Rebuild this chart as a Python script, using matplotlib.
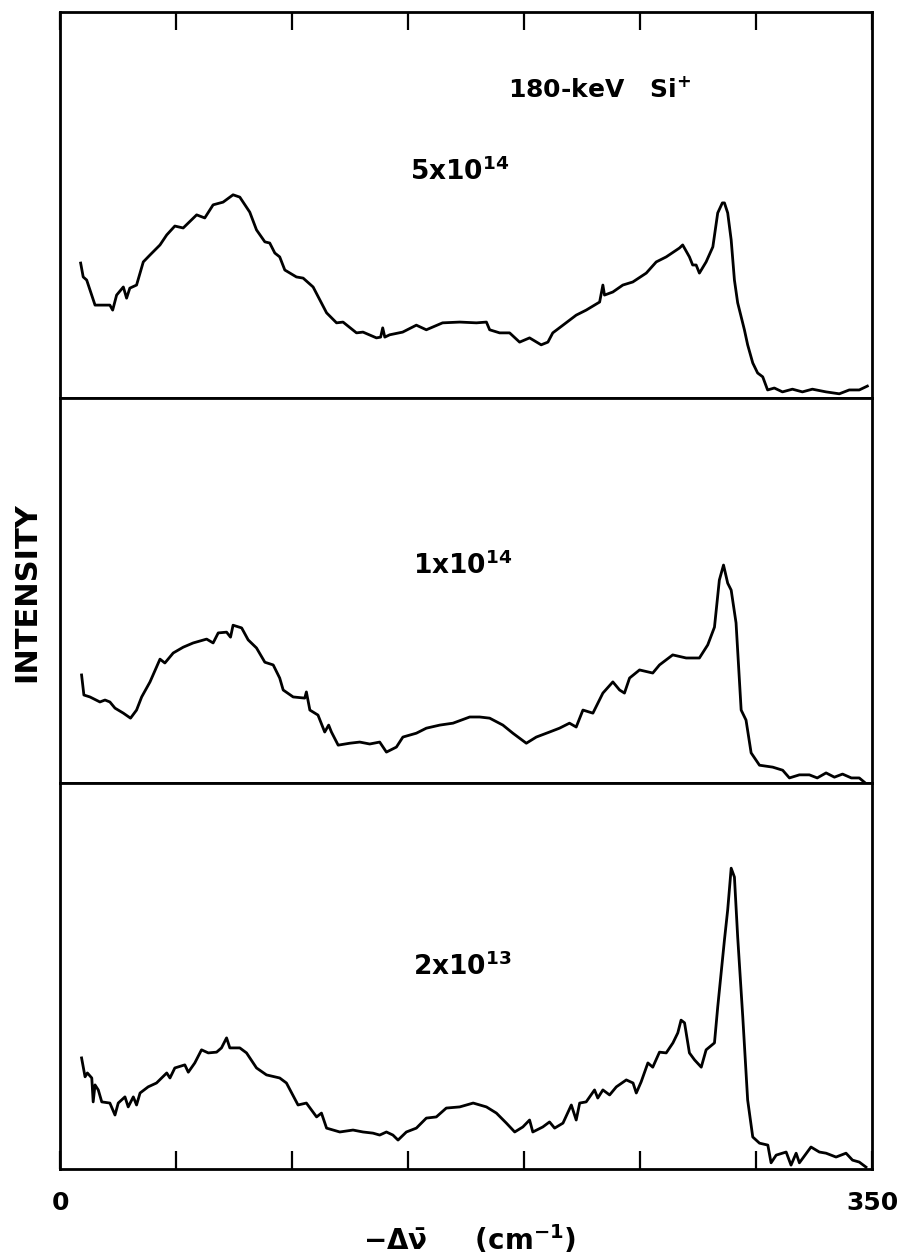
import matplotlib
matplotlib.use("Agg")
import matplotlib.pyplot as plt

plt.rcParams['font.family'] = ['DejaVu Sans']
plt.rcParams['font.weight'] = 'bold'
plt.rcParams['mathtext.fontset'] = 'custom'
plt.rcParams['mathtext.rm'] = 'DejaVu Sans:bold'
plt.rcParams['mathtext.it'] = 'DejaVu Sans:bold'
plt.rcParams['mathtext.bf'] = 'DejaVu Sans:bold'
plt.rcParams['mathtext.sf'] = 'DejaVu Sans:bold'

# Raman shift (cm^-1) and intensity (arb. units, 0-100 per panel)
shift_5e14 = [8.9, 10.0, 11.5, 15.1, 21.5, 22.7, 24.4, 27.3, 28.7, 30.1, 33.0, 35.9, 38.8,
              43.1, 46.0, 49.5, 53.1, 58.9, 62.4, 66.0, 70.3, 74.6, 77.5, 81.8, 84.7, 88.3,
              90.4, 92.6, 94.7, 96.9, 101.9, 104.8, 109.1, 114.9, 119.2, 122.0, 127.8, 130.6,
              136.4, 138.2, 139.1, 140.0, 142.1, 147.7, 153.6, 157.9, 164.9, 172.3, 179.5,
              183.8, 185.2, 189.5, 193.8, 198.1, 202.4, 207.4, 210.3, 212.4, 216.8, 222.5,
              226.8, 232.6, 234.0, 234.7, 238.3, 242.6, 246.9, 252.7, 257.0, 261.3, 267.0,
              268.4, 271.3, 272.7, 274.2, 275.6, 278.5, 281.4, 283.5, 285.5, 286.4, 287.8,
              289.3, 290.7, 292.1, 295.0, 296.4, 298.6, 300.7, 302.9, 305.0, 307.9, 311.4,
              315.7, 320.0, 324.3, 330.2, 335.9, 340.2, 344.5, 348.0]
int_5e14 = [34.9, 31.3, 30.5, 24.0, 24.0, 22.7, 26.6, 28.7, 25.8, 28.4, 29.2, 35.2, 37.0,
            39.6, 42.2, 44.5, 44.0, 47.4, 46.6, 50.0, 50.7, 52.6, 52.0, 48.1, 43.5, 40.4,
            40.1, 37.5, 36.5, 33.1, 31.3, 31.0, 28.7, 22.0, 19.4, 19.6, 16.8, 17.0,
            15.5, 15.7, 18.1, 15.7, 16.3, 17.0, 18.8, 17.6, 19.4, 19.6, 19.4,
            19.6, 17.6, 16.8, 16.8, 14.4, 15.5, 13.7, 14.4, 16.8, 18.8, 21.4,
            22.7, 24.8, 29.2, 26.6, 27.4, 29.2, 30.0, 32.3, 35.2, 36.5, 38.8,
            39.6, 36.5, 34.4, 34.4, 32.3, 35.2, 39.1, 47.9, 50.5, 50.5, 47.9,
            40.9, 30.5, 24.6, 17.6, 13.7, 9.0, 6.4, 5.4, 2.0, 2.5, 1.5,
            2.2, 1.5, 2.2, 1.5, 1.0, 2.0, 2.0, 3.0]

shift_1e14 = [9.3, 10.3, 12.9, 17.2, 19.4, 21.5, 23.7, 27.3, 30.4, 33.0, 35.2, 38.8, 43.1,
              45.2, 48.8, 53.1, 57.4, 63.2, 66.0, 68.2, 71.8, 73.5, 74.6, 78.3, 81.1, 84.7,
              88.3, 91.9, 94.7, 96.2, 100.5, 105.5, 106.2, 107.7, 111.2, 114.1, 115.8, 117.0,
              119.9, 124.9, 129.2, 133.5, 137.8, 140.7, 145.0, 147.8, 153.6, 157.9, 163.7,
              169.4, 176.6, 180.9, 185.2, 190.9, 195.2, 201.0, 205.3, 211.0, 215.3, 219.6,
              222.5, 225.4, 229.7, 234.0, 238.3, 241.2, 243.3, 245.5, 249.8, 255.5, 258.4,
              264.1, 269.9, 275.6, 279.2, 282.1, 284.2, 286.0, 287.8, 289.3, 291.4, 293.6,
              295.7, 297.9, 301.5, 307.2, 311.5, 314.4, 318.7, 323.0, 326.4, 330.2, 333.8,
              337.3, 341.1, 344.5, 346.7]
int_1e14 = [28.1, 22.9, 22.4, 21.1, 21.6, 21.1, 19.5, 18.2, 16.9, 19.0, 22.4, 26.3, 32.2,
            31.2, 33.8, 35.3, 36.4, 37.4, 36.4, 39.0, 39.2, 37.9, 41.0, 40.3, 37.2, 35.1,
            31.4, 30.7, 27.3, 24.2, 22.4, 22.1, 23.7, 19.0, 17.7, 13.3, 15.1, 13.3,
            9.9, 10.4, 10.7, 10.2, 10.7, 8.1, 9.4, 12.0, 13.0, 14.3, 15.1,
            15.6, 17.2, 17.2, 16.9, 15.1, 13.0, 10.4, 12.0, 13.3, 14.3, 15.6,
            14.6, 19.0, 18.2, 23.4, 26.3, 24.2, 23.4, 27.3, 29.4, 28.6, 30.7,
            33.3, 32.5, 32.5, 35.9, 40.5, 52.7, 56.6, 51.9, 50.1, 41.6, 19.0,
            16.4, 7.9, 4.7, 4.2, 3.4, 1.4, 2.2, 2.2, 1.4, 2.7, 1.6,
            2.4, 1.4, 1.4, 0.3]

shift_2e13 = [9.3, 10.8, 11.8, 13.7, 14.3, 15.1, 16.5, 18.0, 21.5, 23.7, 25.1, 28.0, 29.4,
              31.6, 33.0, 34.5, 38.0, 41.6, 46.0, 47.4, 49.5, 53.8, 55.3, 58.1, 61.0, 63.9,
              67.5, 69.6, 71.8, 73.2, 77.5, 80.4, 84.7, 89.0, 94.7, 97.6, 102.6, 106.2,
              110.6, 112.7, 114.9, 120.6, 126.3, 130.6, 134.9, 137.8, 140.7, 143.5, 145.7,
              149.3, 153.6, 157.9, 162.2, 166.5, 172.3, 178.1, 183.8, 188.1, 192.4, 196.0,
              199.5, 202.4, 203.8, 208.1, 211.0, 213.2, 216.8, 220.4, 222.5, 224.0, 226.8,
              230.4, 231.8, 234.0, 236.9, 239.8, 244.1, 247.0, 248.4, 250.5, 253.4, 255.5,
              258.4, 261.3, 264.2, 266.3, 267.7, 269.2, 271.3, 273.5, 276.4, 278.5, 282.1,
              283.5, 286.4, 287.8, 289.3, 290.7, 292.1, 294.3, 296.4, 298.6, 301.5, 305.1,
              306.5, 308.7, 313.0, 315.1, 317.3, 318.7, 323.7, 327.3, 330.2, 334.5, 338.8,
              341.6, 344.5, 347.4]
int_2e13 = [28.8, 23.9, 24.9, 23.6, 17.4, 21.8, 20.5, 17.4, 17.1, 14.0, 17.1, 18.7, 16.1,
            18.7, 16.6, 19.7, 21.3, 22.3, 24.9, 23.6, 26.2, 27.0, 25.1, 27.5, 30.9, 30.1,
            30.3, 31.4, 34.0, 31.4, 31.4, 30.1, 26.2, 24.4, 23.6, 22.3, 16.6, 17.1,
            13.5, 14.5, 10.6, 9.6, 10.1, 9.6, 9.3, 8.8, 9.6, 8.8, 7.5,
            9.6, 10.6, 13.2, 13.5, 15.8, 16.1, 17.1, 16.1, 14.5, 11.9, 9.6,
            10.9, 12.7, 9.6, 10.9, 12.2, 10.6, 11.9, 16.6, 12.7, 17.1, 17.4,
            20.5, 18.4, 20.5, 19.2, 21.3, 23.1, 22.3, 19.7, 22.6, 27.5, 26.4,
            30.3, 30.1, 32.7, 35.3, 38.6, 37.9, 30.1, 28.3, 26.4, 30.9, 32.7,
            42.0, 59.4, 67.2, 78.0, 75.7, 60.2, 39.4, 17.9, 8.3, 6.7, 6.2,
            1.6, 3.6, 4.4, 1.0, 4.1, 1.6, 5.7, 4.4, 4.1, 3.1, 4.1,
            2.3, 1.8, 0.5]

x_ticks = [0, 50, 100, 150, 200, 250, 300, 350]
x_ticklabels = ['0', '', '', '', '', '', '', '350']

fig, axes = plt.subplots(3, 1, sharex=True, figsize=(9.07, 12.58), dpi=100)
fig.subplots_adjust(left=60 / 907, right=872 / 907, top=1 - 12 / 1258,
                    bottom=1 - 1169 / 1258, hspace=0)

series = [(shift_5e14, int_5e14), (shift_1e14, int_1e14), (shift_2e13, int_2e13)]
for ax, (xs, ys) in zip(axes, series):
    ax.plot(xs, ys, color='black', lw=2.0)
    ax.set_xlim(0, 350)
    ax.set_ylim(0, 100)
    ax.set_yticks([])
    for s in ax.spines.values():
        s.set_linewidth(2.0)
    ax.tick_params(axis='x', which='both', bottom=False, top=False,
                   labelbottom=False, direction='in', length=13, width=1.6)

axes[0].tick_params(axis='x', top=True)
axes[2].tick_params(axis='x', bottom=True, labelbottom=True, pad=16, labelsize=18)
axes[2].set_xticks(x_ticks)
axes[2].set_xticklabels(x_ticklabels, fontweight='bold')

axes[0].text(193, 77.9, '180-keV   Si$^{+}$', fontsize=18, fontweight='bold',
             ha='left', va='baseline')
axes[0].text(151, 56.4, '5x10$^{14}$', fontsize=19, fontweight='bold',
             ha='left', va='baseline')
axes[1].text(152, 54.4, '1x10$^{14}$', fontsize=19, fontweight='bold',
             ha='left', va='baseline')
axes[2].text(152, 50.3, '2x10$^{13}$', fontsize=19, fontweight='bold',
             ha='left', va='baseline')

fig.text(27 / 907, 1 - 592 / 1258, 'INTENSITY', rotation=90, fontsize=22,
         fontweight='bold', ha='center', va='center')
fig.text(470 / 907, 1 - 1240 / 1258, r'$-\Delta\bar{\nu}$' + '     (cm$^{-1}$)',
         fontsize=20, fontweight='bold', ha='center', va='center')

fig.savefig('out.png', dpi=100)
